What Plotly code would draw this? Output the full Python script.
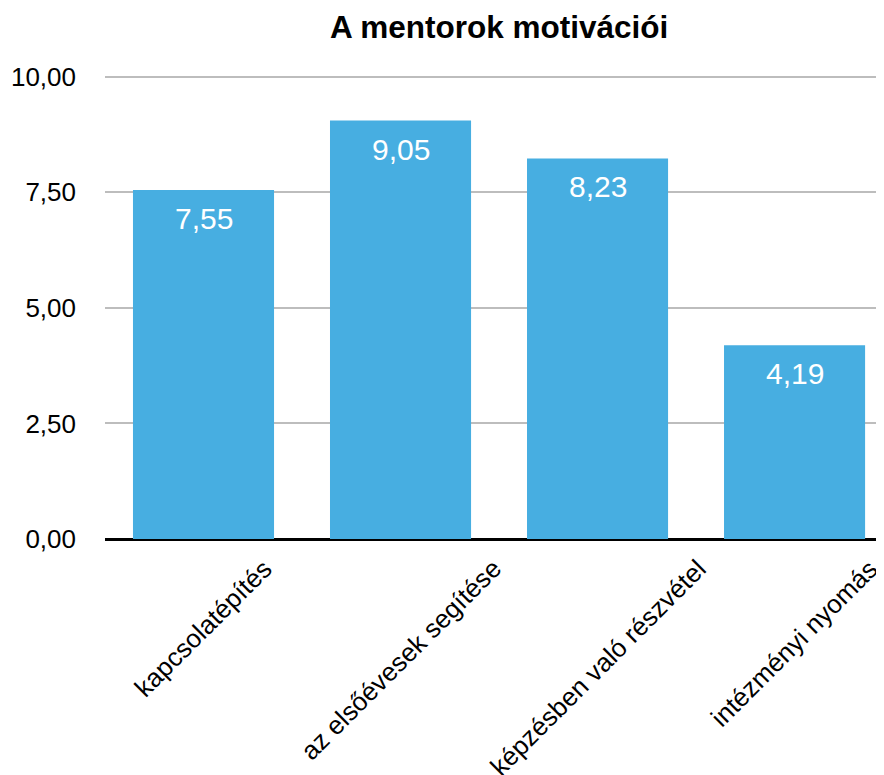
import plotly.graph_objs as go

# chart data
categories = ["kapcsolatépítés", "az elsőévesek segítése",
              "képzésben való részvétel", "intézményi nyomás"]
values = [7.55, 9.05, 8.23, 4.19]
y_ticks = [0, 2.5, 5, 7.5, 10]

FONT = "Helvetica, Arial, Liberation Sans, sans-serif"
BAR_COLOR = "#47AEE1"

# the page body adds an 8px margin, so the figure is drawn 8px smaller
W, H = 876, 767

fig = go.Figure()
fig.add_trace(go.Bar(
    x=categories, y=values,
    marker=dict(color=BAR_COLOR, line=dict(width=0)),
    hoverinfo="skip",
))

# value labels inside the top of each bar
for cat, val in zip(categories, values):
    fig.add_annotation(
        x=cat, y=val, xref="x", yref="y",
        text=f"{val:.2f}".replace(".", ","),
        showarrow=False, yanchor="top", yshift=-10,
        font=dict(family=FONT, size=30, color="white"),
    )

# category labels, rotated and centred under each bar
for cat in categories:
    fig.add_annotation(
        x=cat, y=0, xref="x", yref="y",
        text=cat, textangle=-45,
        showarrow=False, xanchor="center", yanchor="top", yshift=-12,
        font=dict(family=FONT, size=26, color="black"),
    )

fig.update_layout(
    width=W, height=H,
    margin=dict(l=97, r=0, t=64, b=236),
    paper_bgcolor="white", plot_bgcolor="white",
    separators=",.",
    bargap=0.284,
    showlegend=False,
    font=dict(family=FONT, color="black"),
    title=dict(
        text="<b>A mentorok motivációi</b>",
        x=0.506, xref="paper", xanchor="center",
        y=1 - 19 / H, yref="container", yanchor="middle",
        font=dict(family=FONT, size=31.5, color="black"),
    ),
)

fig.update_xaxes(
    range=[-0.5, 3.454],
    showticklabels=False,
    showgrid=False,
    showline=False,
    zeroline=False,
    automargin=False,
)

fig.update_yaxes(
    range=[0, 10.1],
    tickvals=y_ticks,
    tickformat=".2f",
    tickfont=dict(family=FONT, size=26, color="black"),
    ticklabelstandoff=28,
    showgrid=True, gridcolor="#BDBDBD", gridwidth=2,
    zeroline=True, zerolinecolor="black", zerolinewidth=3,
    showline=False,
    automargin=False,
)

fig.write_html("out.html")
